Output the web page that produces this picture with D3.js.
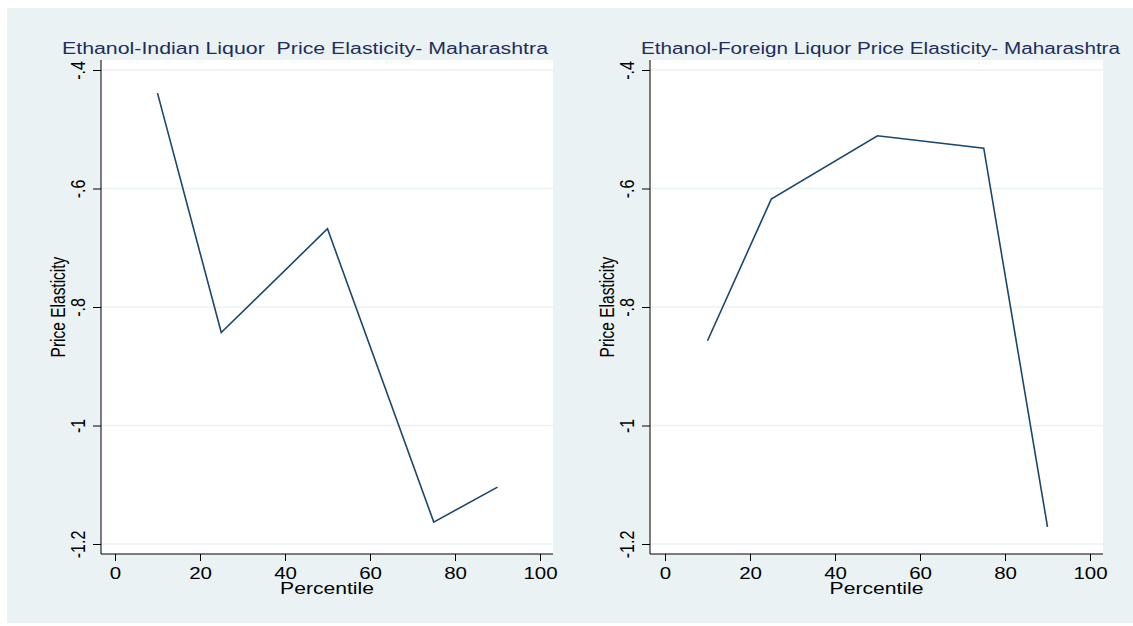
<!DOCTYPE html>
<html><head><meta charset="utf-8">
<script src="https://cdn.jsdelivr.net/npm/d3@7"></script>
<style>body{margin:0;background:#fff}svg{display:block}text{font-family:"Liberation Sans",Arial,sans-serif;white-space:pre}</style>
</head><body>
<script>
const percentiles = [10, 25, 50, 75, 90];
const indianElasticity = [-0.439, -0.843, -0.668, -1.163, -1.104];
const foreignElasticity = [-0.857, -0.618, -0.511, -0.532, -1.171];
const xTicks = [0, 20, 40, 60, 80, 100];
const yTicks = [-0.4, -0.6, -0.8, -1.0, -1.2];
const yTickLabels = ["-.4", "-.6", "-.8", "-1", "-1.2"];
const titles = ["Ethanol-Indian Liquor  Price Elasticity- Maharashtra", "Ethanol-Foreign Liquor Price Elasticity- Maharashtra"];

const W = 1133, H = 626;
const SX = 1.28; // horizontal stretch of the reference's lettering
const svg = d3.select("body").append("svg").attr("width", W).attr("height", H);
svg.append("rect").attr("x", 7).attr("y", 8).attr("width", W - 7).attr("height", H - 8 - 3).attr("fill", "#eaf2f3");

const panels = [
  {left: 101, right: 553, x0: 115, x100: 540, titleX: 62, titleW: 486, data: indianElasticity, title: titles[0]},
  {left: 650, right: 1103, x0: 665, x100: 1090, titleX: 641, titleW: 479, data: foreignElasticity, title: titles[1]}
];
const plotTop = 60, plotBottom = 554;

panels.forEach(p => {
  const x = d3.scaleLinear().domain([0, 100]).range([p.x0, p.x100]);
  const y = d3.scaleLinear().domain([-0.4, -1.2]).range([70, 544]);
  const g = svg.append("g");
  g.append("rect").attr("x", p.left).attr("y", plotTop).attr("width", p.right - p.left).attr("height", plotBottom - plotTop).attr("fill", "#fff");
  g.selectAll("line.grid").data(yTicks).enter().append("line")
    .attr("x1", p.left).attr("x2", p.right).attr("y1", d => y(d)).attr("y2", d => y(d))
    .attr("stroke", "#eaf2f3").attr("stroke-width", 1.5);
  const yAxis = d3.axisLeft(y).tickValues(yTicks).tickSize(8).tickSizeOuter(0).tickFormat((d, i) => yTickLabels[i]);
  const ya = g.append("g").attr("transform", `translate(${p.left},0)`).call(yAxis);
  ya.select(".domain").attr("d", `M0,${plotTop}V${plotBottom}`).attr("stroke", "#000");
  ya.selectAll(".tick line").attr("stroke", "#000");
  ya.selectAll(".tick text").attr("x", 0).attr("y", 0).attr("dy", 0)
    .attr("transform", `translate(-16,0) scale(${SX},1) rotate(-90)`)
    .attr("text-anchor", "middle").attr("font-size", 16).attr("fill", "#000");
  const xAxis = d3.axisBottom(x).tickValues(xTicks).tickSize(7).tickSizeOuter(0);
  const xa = g.append("g").attr("transform", `translate(0,${plotBottom})`).call(xAxis);
  xa.select(".domain").attr("d", `M${p.left},0H${p.right}`).attr("stroke", "#000");
  xa.selectAll(".tick line").attr("stroke", "#000");
  xa.selectAll(".tick text").attr("y", 0).attr("dy", 0).attr("transform", `translate(0,25) scale(${SX},1)`)
    .attr("font-size", 16).attr("fill", "#000");
  const line = d3.line().x((d, i) => x(percentiles[i])).y(d => y(d));
  g.append("path").datum(p.data).attr("d", line).attr("fill", "none").attr("stroke", "#1a476f").attr("stroke-width", 1.6);
  g.append("text").attr("x", p.titleX).attr("y", 54).attr("font-size", 16).attr("fill", "#1f2d5c")
    .attr("textLength", p.titleW).attr("lengthAdjust", "spacingAndGlyphs").text(p.title);
  g.append("text").attr("transform", `translate(${(p.left + p.right) / 2},594) scale(${SX},1)`).attr("text-anchor", "middle")
    .attr("font-size", 16.5).attr("fill", "#000").text("Percentile");
  g.append("text").attr("transform", `translate(${p.left - 36},${(plotTop + plotBottom) / 2}) scale(${SX},1) rotate(-90)`).attr("text-anchor", "middle")
    .attr("font-size", 15.5).attr("fill", "#000").text("Price Elasticity");
});
</script>
</body></html>
